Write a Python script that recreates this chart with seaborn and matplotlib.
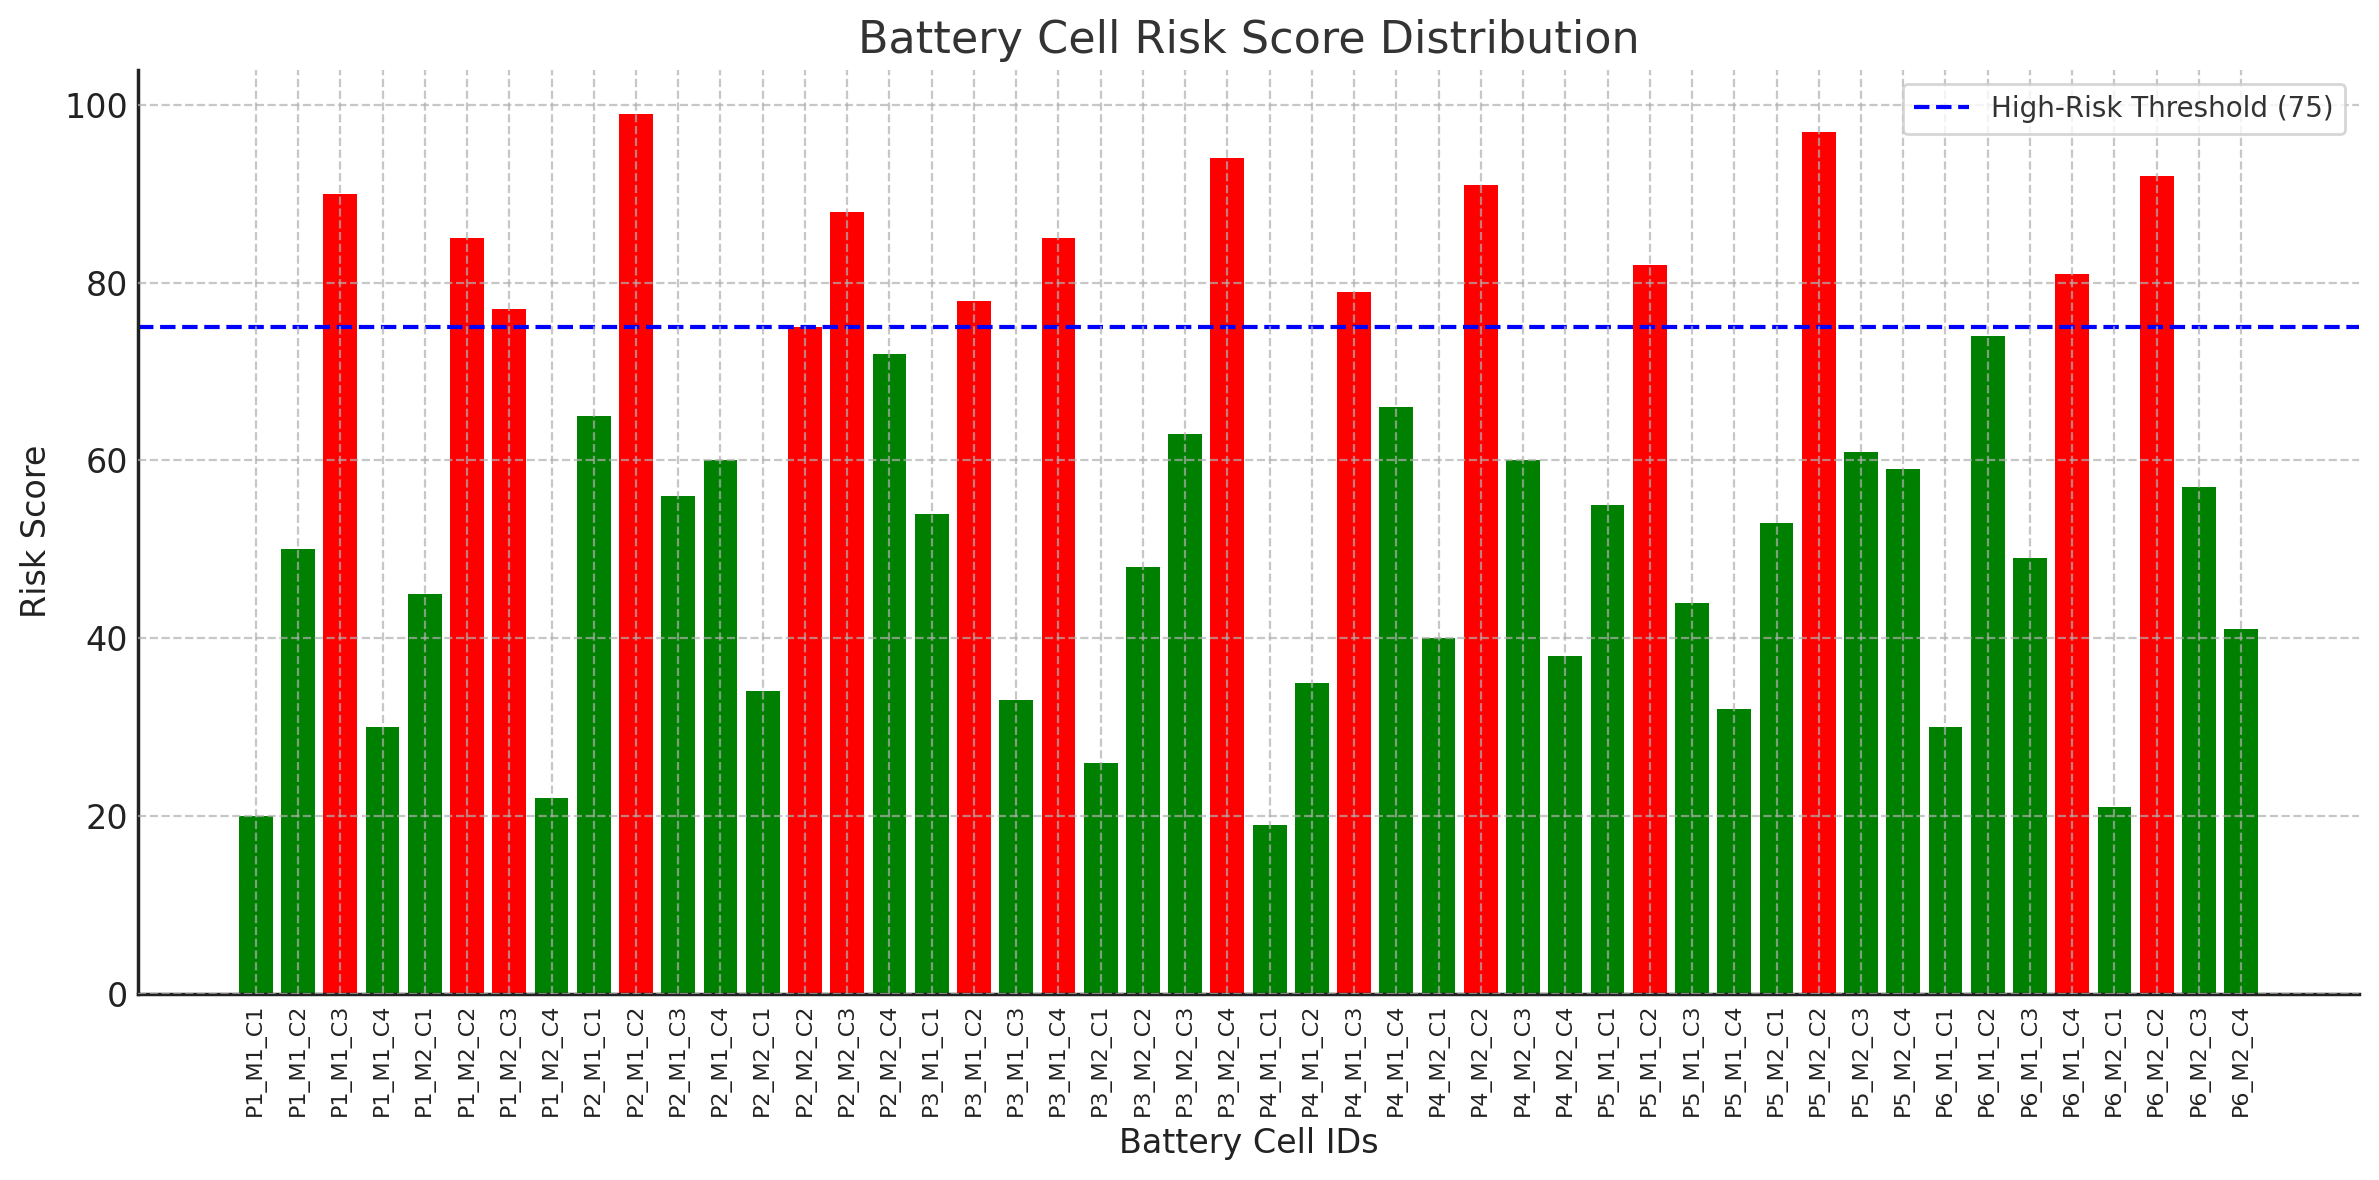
import matplotlib
matplotlib.use("Agg")
import matplotlib.pyplot as plt
import seaborn as sns
import pandas as pd

cell_ids = [
    "P1_M1_C1", "P1_M1_C2", "P1_M1_C3", "P1_M1_C4", "P1_M2_C1", "P1_M2_C2", "P1_M2_C3", "P1_M2_C4",
    "P2_M1_C1", "P2_M1_C2", "P2_M1_C3", "P2_M1_C4", "P2_M2_C1", "P2_M2_C2", "P2_M2_C3", "P2_M2_C4",
    "P3_M1_C1", "P3_M1_C2", "P3_M1_C3", "P3_M1_C4", "P3_M2_C1", "P3_M2_C2", "P3_M2_C3", "P3_M2_C4",
    "P4_M1_C1", "P4_M1_C2", "P4_M1_C3", "P4_M1_C4", "P4_M2_C1", "P4_M2_C2", "P4_M2_C3", "P4_M2_C4",
    "P5_M1_C1", "P5_M1_C2", "P5_M1_C3", "P5_M1_C4", "P5_M2_C1", "P5_M2_C2", "P5_M2_C3", "P5_M2_C4",
    "P6_M1_C1", "P6_M1_C2", "P6_M1_C3", "P6_M1_C4", "P6_M2_C1", "P6_M2_C2", "P6_M2_C3", "P6_M2_C4",
]
risk_scores = [
    20, 50, 90, 30, 45, 85, 77, 22,
    65, 99, 56, 60, 34, 75, 88, 72,
    54, 78, 33, 85, 26, 48, 63, 94,
    19, 35, 79, 66, 40, 91, 60, 38,
    55, 82, 44, 32, 53, 97, 61, 59,
    30, 74, 49, 81, 21, 92, 57, 41,
]
threshold = 75
high_color = "#ff0000"
low_color = "#008000"

sns.set_style("white")
plt.rcParams["font.family"] = ["DejaVu Sans"]

df = pd.DataFrame({"cell": cell_ids, "score": risk_scores})
bar_colors = {c: (high_color if s >= threshold else low_color) for c, s in zip(cell_ids, risk_scores)}

fig = plt.figure(figsize=(2379 / 200, 1180 / 200), dpi=200)
ax = fig.add_axes([0.058, 0.158, 0.9916 - 0.058, 0.9407 - 0.158])

sns.barplot(data=df, x="cell", y="score", hue="cell", palette=bar_colors,
            saturation=1, width=0.8, legend=False, ax=ax, order=cell_ids, hue_order=cell_ids,
            linewidth=0)

ax.axhline(threshold, color="blue", linestyle="--", linewidth=1.5,
           label=f"High-Risk Threshold ({threshold})")

ax.set_xlim(-0.4 - 0.05 * 47.8, 47.4 + 0.05 * 47.8)
ax.set_ylim(0, 99 * 1.05)

ax.grid(True, axis="both", linestyle="--", linewidth=0.8, color="#b0b0b0", alpha=0.7)
ax.set_axisbelow(False)

for side in ["top", "right"]:
    ax.spines[side].set_visible(False)
for side in ["left", "bottom"]:
    ax.spines[side].set_color("#222222")
    ax.spines[side].set_linewidth(1.25)

ax.tick_params(axis="both", direction="in", length=3.5, width=1.0, color="#222222")
ax.tick_params(axis="y", labelsize=12, labelcolor="#222222")
ax.tick_params(axis="x", labelsize=8, labelcolor="#222222")
plt.setp(ax.get_xticklabels(), rotation=90)

ax.set_title("Battery Cell Risk Score Distribution", fontsize=16, color="#333333")
ax.set_xlabel("Battery Cell IDs", fontsize=12, color="#222222")
ax.set_ylabel("Risk Score", fontsize=12, color="#222222")

leg = ax.legend(loc="upper right", fontsize=10, frameon=True)
leg.get_frame().set_edgecolor("#cccccc")
for t in leg.get_texts():
    t.set_color("#333333")

fig.savefig("out.png", dpi=200)
